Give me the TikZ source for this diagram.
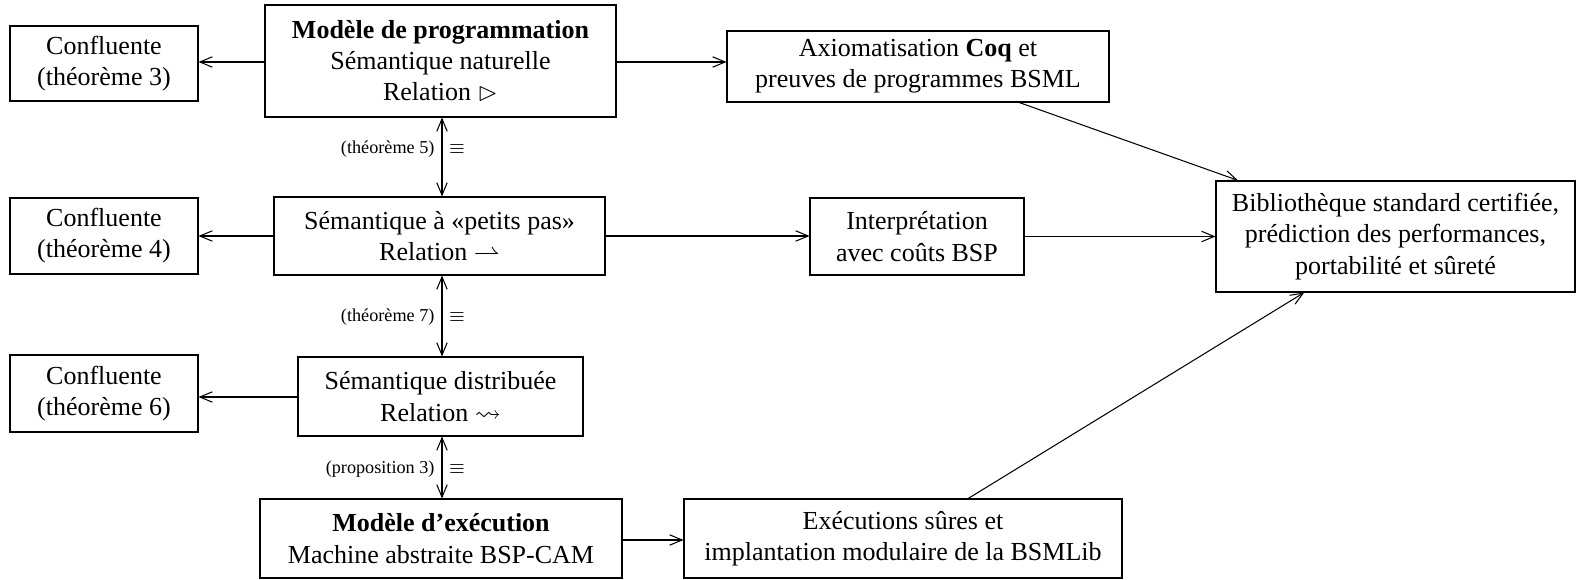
\documentclass[tikz,border=0pt]{standalone}
\usepackage{fontspec}
\setmainfont{Liberation Serif}
\usepackage{amssymb}
\usetikzlibrary{arrows.meta}
\begin{document}
\begin{tikzpicture}[x=0.3846pt,y=-0.3846pt,
  box/.style={draw,line width=0.4pt,inner sep=0pt,align=center},
  arr/.style={line width=0.4pt,-{Straight Barb[length=4.8pt,width=4pt]}},
  darr/.style={line width=0.4pt,{Straight Barb[length=4.8pt,width=4pt]}-{Straight Barb[length=4.8pt,width=4pt]}},
  lab/.style={font=\scriptsize,inner sep=0pt}]
\useasboundingbox (0,0) rectangle (1587,580);
\node[box,minimum width=188*0.3846pt,minimum height=75*0.3846pt] (conf3) at (104,63.5) {Confluente\\(théorème 3)};
\node[box,minimum width=351*0.3846pt,minimum height=112*0.3846pt] (prog) at (440.5,61) {\textbf{Modèle de programmation}\\Sémantique naturelle\\Relation $\rhd$};
\node[box,minimum width=382*0.3846pt,minimum height=71*0.3846pt] (coq) at (918,66.5) {Axiomatisation \textbf{Coq} et\\preuves de programmes BSML};
\node[box,minimum width=188*0.3846pt,minimum height=76*0.3846pt] (conf4) at (104,236) {Confluente\\(théorème 4)};
\node[box,minimum width=331*0.3846pt,minimum height=78*0.3846pt] (petits) at (439.5,236) {Sémantique à «petits pas»\\Relation $\rightharpoonup$};
\node[box,minimum width=214*0.3846pt,minimum height=77*0.3846pt] (interp) at (917,236.5) {Interprétation\\avec coûts BSP};
\node[box,minimum width=359*0.3846pt,minimum height=111*0.3846pt] (biblio) at (1395.5,236.5) {Bibliothèque standard certifiée,\\prédiction des performances,\\portabilité et sûreté};
\node[box,minimum width=188*0.3846pt,minimum height=77*0.3846pt] (conf6) at (104,393.5) {Confluente\\(théorème 6)};
\node[box,minimum width=285*0.3846pt,minimum height=79*0.3846pt] (distrib) at (440.5,396.5) {Sémantique distribuée\\Relation $\leadsto$};
\node[box,minimum width=362*0.3846pt,minimum height=79*0.3846pt] (execm) at (441,538.5) {\textbf{Modèle d’exécution}\\Machine abstraite BSP-CAM};
\node[box,minimum width=438*0.3846pt,minimum height=79*0.3846pt] (execs) at (903,538.5) {Exécutions sûres et\\implantation modulaire de la BSMLib};
% horizontal arrows
\draw[arr] (prog.west |- 0,62) -- (conf3.east |- 0,62);
\draw[arr] (prog.east |- 0,62) -- (coq.west |- 0,62);
\draw[arr] (petits.west) -- (conf4.east |- petits.west);
\draw[arr] (petits.east) -- (interp.west |- petits.east);
\draw[arr] (interp.east) -- (biblio.west |- interp.east);
\draw[arr] (distrib.west |- 0,397) -- (conf6.east |- 0,397);
\draw[arr] (execm.east |- 0,540) -- (execs.west |- 0,540);
% diagonal arrows
\draw[arr] (coq) -- (biblio);
\draw[arr] (execs) -- (biblio);
% vertical equivalences
\coordinate (v1a) at (442,117);
\draw[darr] (prog.south -| v1a) -- (petits.north -| v1a);
\node[lab,anchor=east] (l5) at (435,149) {(théorème 5)};
\node[lab] (e5) at (457,149) {$\equiv$};
\draw[darr] (petits.south -| v1a) -- (distrib.north -| v1a);
\node[lab,anchor=east] (l7) at (435,317) {(théorème 7)};
\node[lab] (e7) at (457,317) {$\equiv$};
\draw[darr] (distrib.south -| v1a) -- (execm.north -| v1a);
\node[lab,anchor=east] (lp3) at (435,469) {(proposition 3)};
\node[lab] (ep3) at (457,469) {$\equiv$};
\end{tikzpicture}
\end{document}
